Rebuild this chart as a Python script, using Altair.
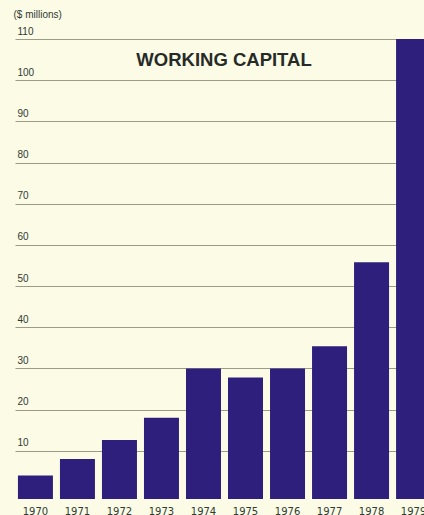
import altair as alt
import pandas as pd

years = ["1970", "1971", "1972", "1973", "1974", "1975", "1976", "1977", "1978", "1979"]
values = [4.0, 8.0, 12.6, 18.0, 30.0, 27.8, 30.0, 35.4, 55.8, 110.3]
y_ticks = [10, 20, 30, 40, 50, 60, 70, 80, 90, 100, 110]
axis_floor = -1.7

chart_title = ["WORKING CAPITAL"]
title_anchor_year = ["1975"]
title_level = [103.4]

df = pd.DataFrame({"year": years, "value": values})
title_df = pd.DataFrame({"year": title_anchor_year, "value": title_level, "label": chart_title})

bar_color = "#2f1f7c"
text_color = "#2f3a32"
grid_color = "#9a9c88"
bg = "#fbfbe6"

bars = (
    alt.Chart(df)
    .mark_bar(clip=True, color=bar_color)
    .encode(
        x=alt.X(
            "year:O",
            scale=alt.Scale(range=[0, 419], paddingInner=0.167, paddingOuter=0.07),
            axis=alt.Axis(
                title=None,
                labelAngle=0,
                labelFontSize=10,
                labelFont="DejaVu Sans",
                labelColor=text_color,
                labelPadding=7,
                domain=False,
                ticks=False,
            ),
        ),
        y=alt.Y(
            "value:Q",
            scale=alt.Scale(domain=[axis_floor, 110], nice=False, zero=False),
            axis=alt.Axis(
                values=y_ticks,
                grid=True,
                gridColor=grid_color,
                gridWidth=1,
                domain=False,
                ticks=False,
                tickSize=0,
                labelAlign="left",
                labelPadding=-2,
                labelBaseline="alphabetic",
                labelOffset=-5,
                labelFontSize=10,
                labelFont="Liberation Sans",
                labelColor=text_color,
                title="($ millions)",
                titleAngle=0,
                titleX=-2,
                titleY=-22,
                titleAlign="left",
                titleBaseline="alphabetic",
                titleFontWeight="normal",
                titleFontSize=10,
                titleFont="Liberation Sans",
                titleColor=text_color,
            ),
        ),
        y2=alt.datum(axis_floor),
    )
)

title_text = (
    alt.Chart(title_df)
    .mark_text(
        fontSize=18.5,
        fontWeight="bold",
        font="Liberation Sans",
        color="#262b28",
        align="center",
        baseline="alphabetic",
        dx=-4,
    )
    .encode(
        x=alt.X("year:O", bandPosition=0),
        y=alt.Y("value:Q"),
        text="label:N",
    )
)

chart = (
    alt.layer(bars, title_text)
    .properties(
        width=409,
        height=460,
        autosize="none",
        padding={"left": 15, "top": 39, "right": 0, "bottom": 16},
        background=bg,
    )
    .configure_view(stroke=None)
)

chart.save("out.html", embed_options={"renderer": "svg", "actions": False})
